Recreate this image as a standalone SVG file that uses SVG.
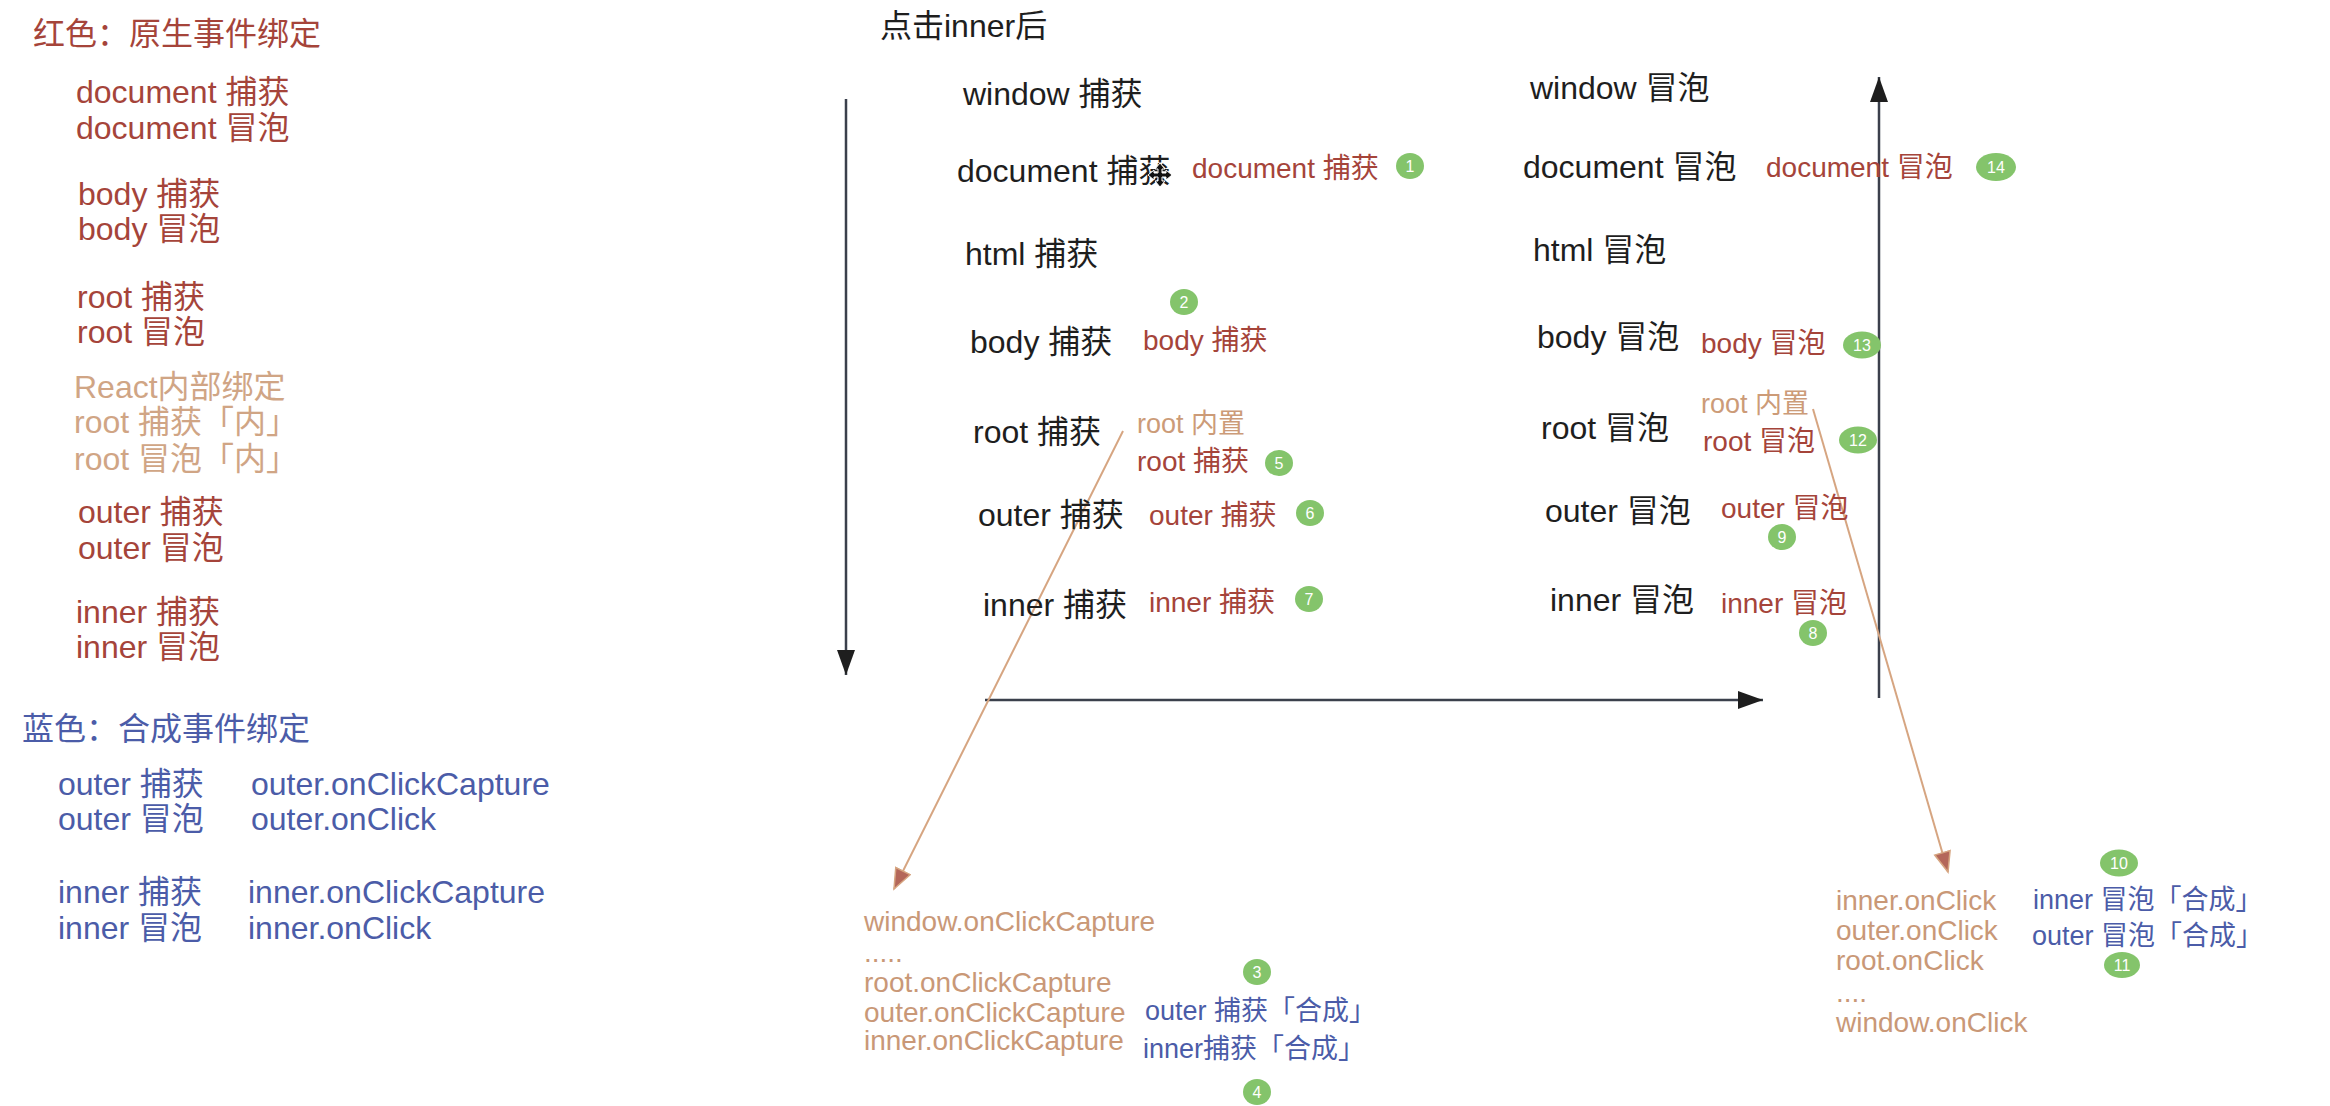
<svg xmlns="http://www.w3.org/2000/svg" width="2330" height="1106" viewBox="0 0 2330 1106">
<style>
text{font-family:"Liberation Sans","Noto Sans CJK SC",sans-serif;}
.blk{fill:#1e1e1e;font-size:32px;}
.red{fill:#a5443a;font-size:32px;}
.reds{fill:#a5443a;font-size:28px;}
.tan{fill:#d0a585;font-size:32px;}
.tans{fill:#cc9b78;font-size:27px;}
.list{fill:#c99877;font-size:28px;}
.blu{fill:#4b5ca8;font-size:32px;}
.blus{fill:#4b5ca8;font-size:27px;}
.badge{fill:#84c46b;}
.num{fill:#ffffff;font-size:16px;text-anchor:middle;}
.axis{stroke:#3b404c;stroke-width:2.5;fill:none;}
.diag{stroke:#d6a581;stroke-width:2;fill:none;}
</style>
<defs>
<marker id="ah" markerUnits="userSpaceOnUse" markerWidth="26" markerHeight="18" refX="25" refY="9" orient="auto">
<path d="M0,0 L25,9 L0,18 z" fill="#1e1e1e"/>
</marker>
<marker id="th" markerUnits="userSpaceOnUse" markerWidth="24" markerHeight="20" refX="21" refY="9" orient="auto">
<path d="M1,1 L21,9 L1,17 z" fill="#b4675a" stroke="#d6a581" stroke-width="1.5"/>
</marker>
</defs>
<rect width="2330" height="1106" fill="#ffffff"/>

<g id="legend-native">
<text class="red" x="33" y="45">红色：原生事件绑定</text>
<text class="red" x="76" y="103">document 捕获</text>
<text class="red" x="76" y="139">document 冒泡</text>
<text class="red" x="78" y="205">body 捕获</text>
<text class="red" x="78" y="240">body 冒泡</text>
<text class="red" x="77" y="308">root 捕获</text>
<text class="red" x="77" y="343">root 冒泡</text>
<text class="tan" x="74" y="398">React内部绑定</text>
<text class="tan" x="74" y="433">root 捕获「内」</text>
<text class="tan" x="74" y="470">root 冒泡「内」</text>
<text class="red" x="78" y="523">outer 捕获</text>
<text class="red" x="78" y="559">outer 冒泡</text>
<text class="red" x="76" y="623">inner 捕获</text>
<text class="red" x="76" y="658">inner 冒泡</text>
</g>

<g id="legend-synthetic">
<text class="blu" x="22" y="740">蓝色：合成事件绑定</text>
<text class="blu" x="58" y="795">outer 捕获</text>
<text class="blu" x="251" y="795">outer.onClickCapture</text>
<text class="blu" x="58" y="830">outer 冒泡</text>
<text class="blu" x="251" y="830">outer.onClick</text>
<text class="blu" x="58" y="903">inner 捕获</text>
<text class="blu" x="248" y="903">inner.onClickCapture</text>
<text class="blu" x="58" y="939">inner 冒泡</text>
<text class="blu" x="248" y="939">inner.onClick</text>
</g>

<g id="title">
<text class="blk" x="880" y="37">点击inner后</text>
</g>

<g id="connectors">
<line class="axis" x1="846" y1="99" x2="846" y2="675" marker-end="url(#ah)"/>
<line class="axis" x1="985" y1="700" x2="1763" y2="700" marker-end="url(#ah)"/>
<line class="axis" x1="1879" y1="698" x2="1879" y2="77" marker-end="url(#ah)"/>
<line class="diag" x1="1123" y1="431" x2="894" y2="889" marker-end="url(#th)"/>
<line class="diag" x1="1813" y1="409" x2="1948" y2="872" marker-end="url(#th)"/>
</g>

<g id="capture-column">
<text class="blk" x="963" y="105">window 捕获</text>
<text class="blk" x="957" y="182">document 捕获</text>
<text class="blk" x="965" y="265">html 捕获</text>
<text class="blk" x="970" y="353">body 捕获</text>
<text class="blk" x="973" y="443">root 捕获</text>
<text class="blk" x="978" y="526">outer 捕获</text>
<text class="blk" x="983" y="616">inner 捕获</text>
</g>

<g id="cursor">
<path d="M1148,175 L1154,170 L1154,173 L1158,173 L1158,169 L1155,169 L1160,163 L1165,169 L1162,169 L1162,173 L1166,173 L1166,170 L1172,175 L1166,180 L1166,177 L1162,177 L1162,181 L1165,181 L1160,187 L1155,181 L1158,181 L1158,177 L1154,177 L1154,180 z" fill="#111" stroke="#fff" stroke-width="1"/>
</g>

<g id="capture-handlers">
<text class="reds" x="1192" y="178">document 捕获</text>
<text class="reds" x="1143" y="350">body 捕获</text>
<text class="tans" x="1137" y="433">root 内置</text>
<text class="reds" x="1137" y="471">root 捕获</text>
<text class="reds" x="1149" y="525">outer 捕获</text>
<text class="reds" x="1149" y="612">inner 捕获</text>
</g>

<g id="bubble-column">
<text class="blk" x="1530" y="99">window 冒泡</text>
<text class="blk" x="1523" y="178">document 冒泡</text>
<text class="blk" x="1533" y="261">html 冒泡</text>
<text class="blk" x="1537" y="348">body 冒泡</text>
<text class="blk" x="1541" y="439">root 冒泡</text>
<text class="blk" x="1545" y="522">outer 冒泡</text>
<text class="blk" x="1550" y="611">inner 冒泡</text>
</g>

<g id="bubble-handlers">
<text class="reds" x="1766" y="177">document 冒泡</text>
<text class="reds" x="1701" y="353">body 冒泡</text>
<text class="tans" x="1701" y="413">root 内置</text>
<text class="reds" x="1703" y="451">root 冒泡</text>
<text class="reds" x="1721" y="518">outer 冒泡</text>
<text class="reds" x="1721" y="613">inner 冒泡</text>
</g>

<g id="capture-synthetic">
<text class="list" x="864" y="931">window.onClickCapture</text>
<text class="list" x="864" y="962">.....</text>
<text class="list" x="864" y="992">root.onClickCapture</text>
<text class="list" x="864" y="1022">outer.onClickCapture</text>
<text class="list" x="864" y="1050">inner.onClickCapture</text>
<text class="blus" x="1145" y="1020">outer 捕获「合成」</text>
<text class="blus" x="1143" y="1058">inner捕获「合成」</text>
</g>

<g id="bubble-synthetic">
<text class="list" x="1836" y="910">inner.onClick</text>
<text class="list" x="1836" y="940">outer.onClick</text>
<text class="list" x="1836" y="970">root.onClick</text>
<text class="list" x="1836" y="1002">....</text>
<text class="list" x="1836" y="1032">window.onClick</text>
<text class="blus" x="2033" y="909">inner 冒泡「合成」</text>
<text class="blus" x="2032" y="945">outer 冒泡「合成」</text>
</g>

<g id="badges">
<g id="b1"><ellipse class="badge" cx="1410" cy="166" rx="14" ry="13"/><text class="num" x="1410" y="172">1</text></g>
<g id="b2"><ellipse class="badge" cx="1184" cy="302" rx="14" ry="13"/><text class="num" x="1184" y="308">2</text></g>
<g id="b3"><ellipse class="badge" cx="1257" cy="972" rx="14" ry="13"/><text class="num" x="1257" y="978">3</text></g>
<g id="b4"><ellipse class="badge" cx="1257" cy="1092" rx="14" ry="13"/><text class="num" x="1257" y="1098">4</text></g>
<g id="b5"><ellipse class="badge" cx="1279" cy="463" rx="14" ry="13"/><text class="num" x="1279" y="469">5</text></g>
<g id="b6"><ellipse class="badge" cx="1310" cy="513" rx="14" ry="13"/><text class="num" x="1310" y="519">6</text></g>
<g id="b7"><ellipse class="badge" cx="1309" cy="599" rx="14" ry="13"/><text class="num" x="1309" y="605">7</text></g>
<g id="b8"><ellipse class="badge" cx="1813" cy="633" rx="14" ry="13"/><text class="num" x="1813" y="639">8</text></g>
<g id="b9"><ellipse class="badge" cx="1782" cy="537" rx="14" ry="13"/><text class="num" x="1782" y="543">9</text></g>
<g id="b10"><ellipse class="badge" cx="2119" cy="863" rx="19" ry="13.5"/><text class="num" x="2119" y="869">10</text></g>
<g id="b11"><ellipse class="badge" cx="2122" cy="965" rx="18" ry="13"/><text class="num" x="2122" y="971">11</text></g>
<g id="b12"><ellipse class="badge" cx="1858" cy="440" rx="19" ry="13.5"/><text class="num" x="1858" y="446">12</text></g>
<g id="b13"><ellipse class="badge" cx="1862" cy="345" rx="19" ry="13.5"/><text class="num" x="1862" y="351">13</text></g>
<g id="b14"><ellipse class="badge" cx="1996" cy="167" rx="20" ry="14"/><text class="num" x="1996" y="173">14</text></g>
</g>
</svg>
